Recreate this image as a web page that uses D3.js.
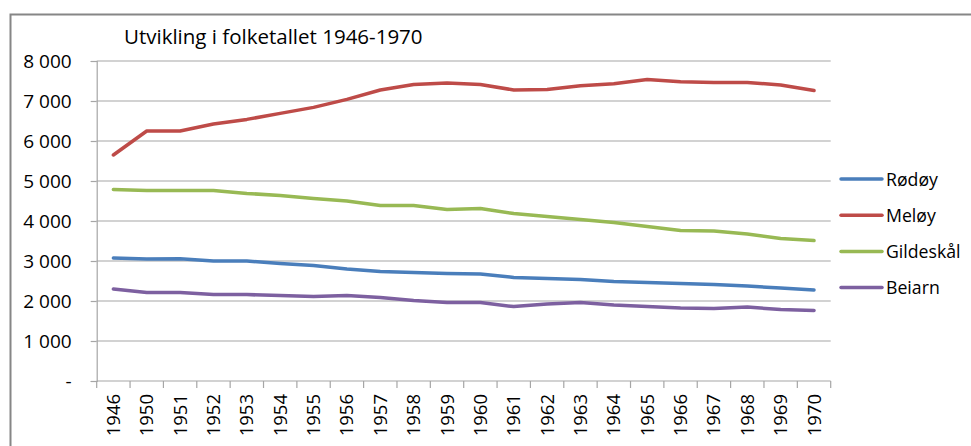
<!DOCTYPE html>
<html>
<head>
<meta charset="utf-8">
<script src="https://cdn.jsdelivr.net/npm/d3@7"></script>
<style>
  body { margin: 0; background: #fff; }
  svg { display: block; font-family: "Open Sans", sans-serif; }
</style>
</head>
<body>
<div id="chart"></div>
<script>
const years = ["1946", "1950", "1951", "1952", "1953", "1954", "1955", "1956", "1957", "1958", "1959",
    "1960", "1961", "1962", "1963", "1964", "1965", "1966", "1967", "1968", "1969", "1970"];

const rodoy = [3075, 3050, 3055, 3000, 3000, 2935, 2885, 2800, 2735, 2715, 2690,
    2675, 2590, 2565, 2535, 2485, 2460, 2435, 2415, 2375, 2325, 2275];
const meloy = [5650, 6250, 6250, 6425, 6540, 6690, 6840, 7040, 7275, 7410, 7450,
    7415, 7275, 7290, 7380, 7430, 7540, 7480, 7465, 7465, 7400, 7260];
const gildeskal = [4790, 4765, 4765, 4765, 4690, 4635, 4565, 4500, 4385, 4385, 4290,
    4315, 4185, 4110, 4040, 3960, 3860, 3765, 3750, 3675, 3560, 3510];
const beiarn = [2300, 2210, 2210, 2160, 2160, 2135, 2110, 2140, 2085, 2010, 1960,
    1960, 1860, 1925, 1965, 1900, 1865, 1825, 1815, 1850, 1785, 1765];

const seriesNames = ["Rødøy", "Meløy", "Gildeskål", "Beiarn"];
const seriesColors = ["#4a7ebb", "#be4b48", "#98b954", "#7d60a0"];
const yTicks = [0, 1000, 2000, 3000, 4000, 5000, 6000, 7000, 8000];

const series = [rodoy, meloy, gildeskal, beiarn].map((values, i) => ({
    name: seriesNames[i],
    color: seriesColors[i],
    values: values
}));

let dimensions = {
    width: 971,
    height: 446,
    margin: { left: 96.7, right: 140.3, top: 61, bottom: 65 }
};
dimensions.boundedWidth = dimensions.width - dimensions.margin.left - dimensions.margin.right;
dimensions.boundedHeight = dimensions.height - dimensions.margin.top - dimensions.margin.bottom;

const wrapper = d3.select("#chart").append("svg")
    .attr("width", dimensions.width)
    .attr("height", dimensions.height);

// outer chart frame (runs off the right and bottom of the picture)
wrapper.append("rect")
    .attr("x", 10.5)
    .attr("y", 14.5)
    .attr("width", 1000)
    .attr("height", 500)
    .attr("fill", "none")
    .attr("stroke", "#868686")
    .attr("stroke-width", 2);

wrapper.append("text")
    .attr("x", 124)
    .attr("y", 44)
    .attr("font-size", "20.5px")
    .attr("fill", "#000")
    .text("Utvikling i folketallet 1946-1970");

const bounds = wrapper.append("g")
    .attr("transform", `translate(${dimensions.margin.left},${dimensions.margin.top})`);

const xScaler = d3.scaleBand()
    .domain(years)
    .range([0, dimensions.boundedWidth]);

const yScaler = d3.scaleLinear()
    .domain([0, 8000])
    .range([dimensions.boundedHeight, 0]);

// gridlines
bounds.append("g")
    .selectAll("line")
    .data(yTicks.filter(d => d > 0))
    .join("line")
    .attr("x1", 0)
    .attr("x2", dimensions.boundedWidth)
    .attr("y1", d => yScaler(d))
    .attr("y2", d => yScaler(d))
    .attr("stroke", "#a6a6a6")
    .attr("stroke-width", 1.2);

// y axis
const yAxisGen = d3.axisLeft(yScaler)
    .tickValues(yTicks)
    .tickSize(6)
    .tickPadding(19)
    .tickFormat(d => d === 0 ? "-" : d3.format(",")(d).replace(",", " "));
const yAxis = bounds.append("g").call(yAxisGen);
yAxis.select(".domain").attr("stroke", "#a6a6a6").attr("stroke-width", 1.2);
yAxis.selectAll(".tick line").attr("stroke", "#a6a6a6").attr("stroke-width", 1.2);
yAxis.selectAll(".tick text")
    .attr("font-size", "19px")
    .attr("font-family", "'Open Sans', sans-serif")
    .attr("fill", "#000");

// x axis: ticks between categories
const xAxis = bounds.append("g")
    .attr("transform", `translate(0,${dimensions.boundedHeight})`);
xAxis.append("line")
    .attr("x1", 0)
    .attr("x2", dimensions.boundedWidth)
    .attr("stroke", "#a6a6a6")
    .attr("stroke-width", 1.2);
xAxis.selectAll(".xtick")
    .data(years.concat(["end"]))
    .join("line")
    .attr("class", "xtick")
    .attr("x1", (d, i) => i * xScaler.step())
    .attr("x2", (d, i) => i * xScaler.step())
    .attr("y1", 0)
    .attr("y2", 7)
    .attr("stroke", "#a6a6a6")
    .attr("stroke-width", 1.2);
xAxis.selectAll(".xlabel")
    .data(years)
    .join("text")
    .attr("class", "xlabel")
    .attr("transform", d => `translate(${xScaler(d) + xScaler.bandwidth() / 2 + 6.5},13) rotate(-90)`)
    .attr("text-anchor", "end")
    .attr("font-size", "18.5px")
    .attr("fill", "#000")
    .text(d => d);

// lines
const lineGen = d3.line()
    .x((d, i) => xScaler(years[i]) + xScaler.bandwidth() / 2)
    .y(d => yScaler(d));

bounds.append("g")
    .selectAll("path")
    .data(series)
    .join("path")
    .attr("d", d => lineGen(d.values))
    .attr("fill", "none")
    .attr("stroke", d => d.color)
    .attr("stroke-width", 3.5)
    .attr("stroke-linejoin", "round")
    .attr("stroke-linecap", "round");

// legend
const legend = wrapper.append("g")
    .attr("transform", "translate(841,179)");
const legendItems = legend.selectAll("g")
    .data(series)
    .join("g")
    .attr("transform", (d, i) => `translate(0,${i * 36.2})`);
legendItems.append("line")
    .attr("x1", 0)
    .attr("x2", 41)
    .attr("stroke", d => d.color)
    .attr("stroke-width", 3.5)
    .attr("stroke-linecap", "round");
legendItems.append("text")
    .attr("x", 45)
    .attr("y", 6.5)
    .attr("font-size", "17.7px")
    .attr("fill", "#000")
    .text(d => d.name);
</script>
</body>
</html>
